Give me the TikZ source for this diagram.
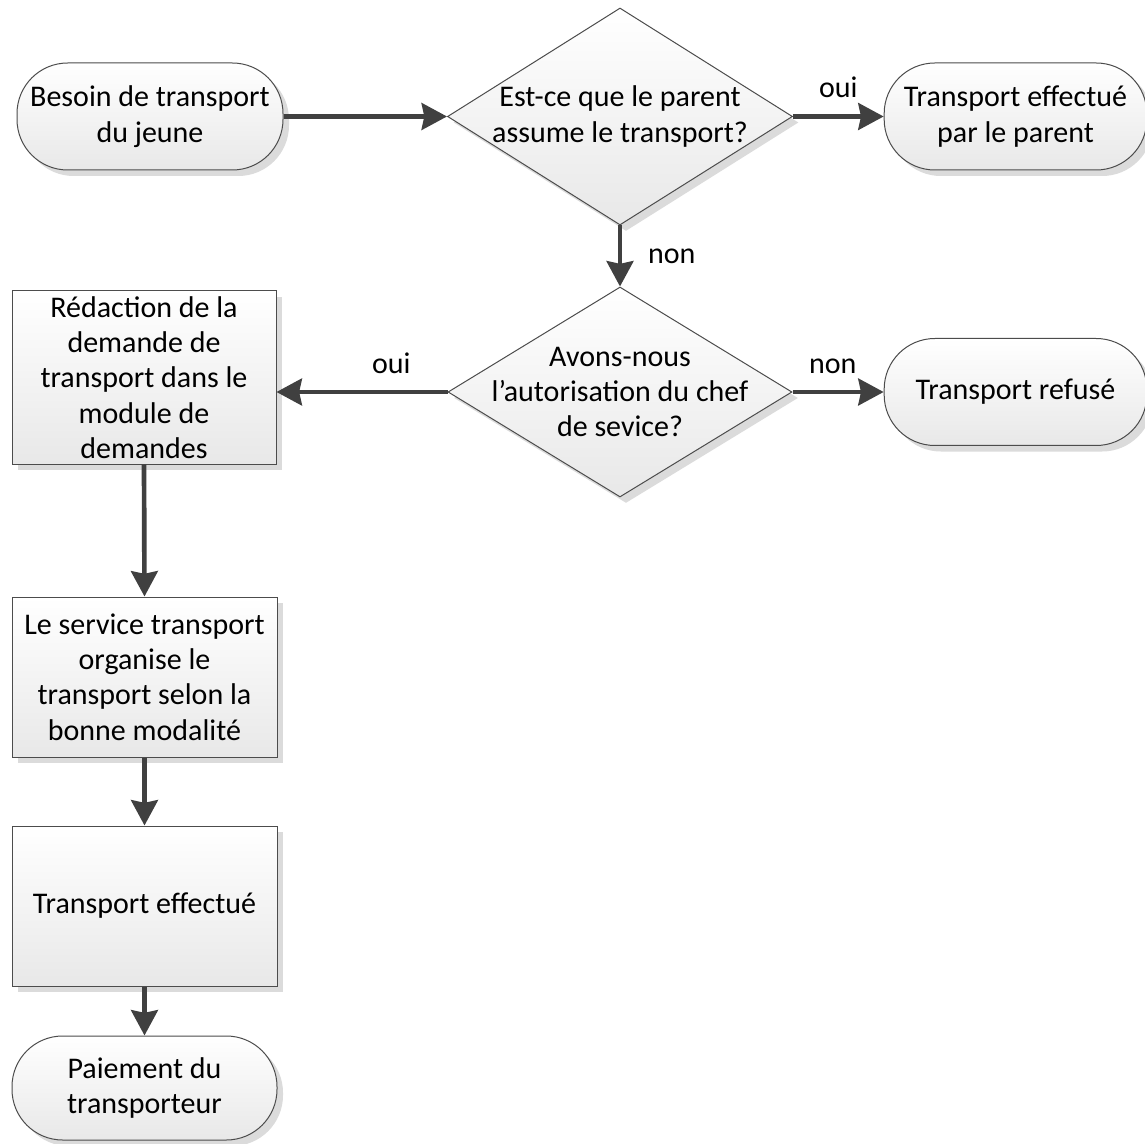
\documentclass[tikz,border=0pt]{standalone}
\usepackage{fontspec}
\setmainfont{Carlito}
\usetikzlibrary{shapes.geometric,shadows,arrows.meta}

\begin{document}
\begin{tikzpicture}[
  x=0.75pt,
  y=-0.75pt,
  font=\fontsize{22.5}{26.5}\selectfont,
  box/.style={draw=black!70, line width=0.75pt, top color=white, bottom color=black!9,
    drop shadow={shadow xshift=4.5pt, shadow yshift=-4.5pt, fill=black!14, opacity=1},
    align=center, inner sep=2pt},
  term/.style={box, rectangle, rounded corners=38pt},
  proc/.style={box, rectangle},
  decision/.style={box, diamond, inner sep=0pt},
  flow/.style={draw=black!75, line width=3.5pt, -{Stealth[length=19pt,width=20pt,inset=2pt]}},
  lbl/.style={font=\fontsize{22.5}{26.5}\selectfont}
]

% White background
\fill[white] (0,0) rectangle (1145,1144);
\useasboundingbox (0,0) rectangle (1145,1144);

% Terminals
\node[term, minimum width=199.5pt, minimum height=80.25pt] (besoin) at (150,116.5) {Besoin de transport\\du jeune};
\node[term, minimum width=197pt, minimum height=80.25pt] (parent) at (1015.5,116.5) {Transport effectué\\par le parent};
\node[term, minimum width=197pt, minimum height=80.25pt] (refus) at (1015.5,392) {Transport refusé};
\node[term, minimum width=198.75pt, minimum height=78pt] (paiement) at (144.5,1088) {Paiement du\\transporteur};

% Decisions
\node[decision, minimum width=258.75pt, minimum height=162.75pt] (q1) at (620,116.5) {};
\node[align=center] (q1txt) at (q1) {Est-ce que le parent\\assume le transport?};
\node[decision, minimum width=258pt, minimum height=157.5pt] (q2) at (620,392) {};
\node[align=center] (q2txt) at (q2) {Avons-nous\\l’autorisation du chef\\de sevice?};

% Processes
\node[proc, minimum width=198pt, minimum height=129.75pt] (redaction) at (144,377.5) {Rédaction de la\\demande de\\transport dans le\\module de\\demandes};
\node[proc, minimum width=198.75pt, minimum height=120pt] (service) at (144.5,677) {Le service transport\\organise le\\transport selon la\\bonne modalité};
\node[proc, minimum width=198.75pt, minimum height=120pt] (effectue) at (144.5,906) {Transport effectué};

% Connectors
\draw[flow] (besoin.east) -- (q1.west);
\draw[flow] (q1.east) -- node[lbl, above=9pt] {oui} (parent.west);
\draw[flow] (q1.south) -- node[lbl, right=16pt] {non} (q2.north);
\draw[flow] (q2.west) -- node[lbl, above=9pt, xshift=22pt] {oui} (q2.west -| redaction.east);
\draw[flow] (q2.east) -- node[lbl, above=9pt, xshift=-4pt] {non} (refus.west);
\draw[flow] (redaction.south) -- (service.north);
\draw[flow] (service.south) -- (effectue.north);
\draw[flow] (effectue.south) -- (paiement.north);

\end{tikzpicture}
\end{document}
